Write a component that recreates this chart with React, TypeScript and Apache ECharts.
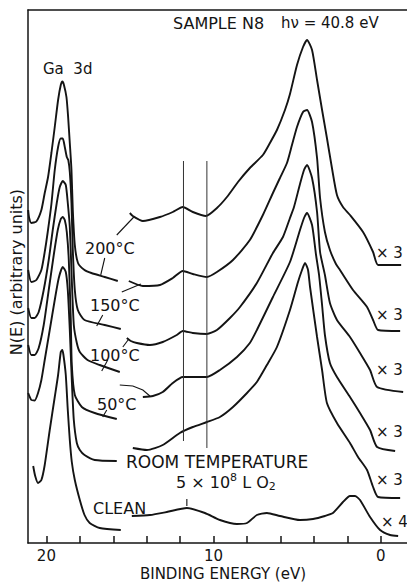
import React, { useEffect, useRef } from "react";
import * as echarts from "echarts";

// Binding energy (eV) vs N(E) (arbitrary units, offset spectra)
const LABELED_TICKS = [20, 10, 0];
const X_MIN = -1.57;
const X_MAX = 21.1;
const Y_MAX = 533;

// Ga 3d region (left part of each spectrum)
const GA_200: number[][] = [
  [21.09, 333], [21.03, 325], [20.9, 320], [20.6, 321.5], [20.3, 333], [20.1, 350], [19.9, 366],
  [19.7, 390], [19.5, 416], [19.3, 443], [19.14, 458], [19.04, 461.5], [18.95, 458], [18.8, 446],
  [18.7, 426], [18.6, 400], [18.5, 373], [18.42, 333], [18.3, 298], [18.11, 280], [17.72, 273],
  [17.31, 270], [16.51, 266], [15.73, 262],
];
const GA_150: number[][] = [
  [21.09, 273], [20.9, 261], [20.6, 263], [20.3, 273], [20.1, 291], [19.92, 311], [19.7, 339],
  [19.5, 373], [19.3, 396], [19.14, 404.5], [19.02, 404.5], [18.9, 396], [18.78, 386], [18.69, 383],
  [18.6, 371], [18.5, 340], [18.42, 293], [18.3, 253], [18.12, 233], [17.72, 223], [16.51, 218],
  [15.55, 214],
];
const GA_100: number[][] = [
  [21.09, 235], [20.9, 225], [20.7, 225], [20.46, 231], [20.16, 253], [19.86, 283], [19.62, 313],
  [19.38, 340], [19.2, 356], [19.02, 362], [18.84, 358], [18.72, 340], [18.6, 316], [18.48, 263],
  [18.36, 218], [18.18, 200], [18.0, 191], [17.54, 183], [16.81, 178], [15.61, 171],
];
const GA_50: number[][] = [
  [21.09, 198], [20.9, 188], [20.7, 188], [20.46, 195], [20.16, 218], [19.86, 253], [19.56, 288],
  [19.32, 313], [19.14, 324], [19.02, 326], [18.9, 323], [18.78, 311], [18.66, 283], [18.54, 223],
  [18.48, 178], [18.3, 148], [17.88, 136], [17.11, 130], [15.79, 124],
];
const GA_RT: number[][] = [
  [21.09, 150], [20.9, 143], [20.7, 142.5], [20.5, 150], [20.3, 163], [20.1, 183], [19.8, 213],
  [19.5, 243], [19.26, 265], [19.02, 276], [18.84, 271], [18.72, 253], [18.6, 213], [18.48, 163],
  [18.36, 123], [18.18, 100], [18.0, 93], [17.72, 88], [17.11, 83], [15.79, 82],
];
const GA_CLEAN: number[][] = [
  [20.79, 77], [20.67, 67], [20.5, 60], [20.3, 63], [20.1, 78], [19.8, 113], [19.5, 146],
  [19.3, 168], [19.14, 191], [19.05, 193], [18.98, 188], [18.84, 168], [18.72, 133], [18.6, 103],
  [18.48, 81], [18.3, 63], [18.0, 43], [17.72, 28], [17.41, 20], [16.81, 15], [15.55, 13],
];

// Valence band region (right part of each spectrum, x3 / x4)
const VB_200: number[][] = [
  [15.01, 330], [14.83, 327], [14.23, 322], [13.21, 326], [12.44, 331], [11.84, 336], [11.24, 331],
  [10.46, 327], [9.8, 335], [9.2, 346], [8.54, 361], [7.83, 375], [7.05, 388], [6.63, 400],
  [6.21, 413], [5.73, 433], [5.43, 449], [5.01, 478], [4.65, 496], [4.41, 503], [4.11, 493],
  [3.81, 463], [3.51, 433], [3.22, 405], [2.92, 375], [2.62, 348], [2.26, 336], [1.84, 328],
  [1.06, 311], [0.46, 291], [0.16, 278], [-1.22, 278],
];
const VB_150: number[][] = [
  [15.07, 262], [14.23, 257], [13.21, 258], [12.44, 265], [11.84, 272], [11.24, 269], [10.4, 266],
  [9.8, 271], [8.84, 283], [7.83, 303], [7.05, 328], [6.45, 350], [6.03, 365], [5.61, 380],
  [5.31, 398], [5.01, 416], [4.65, 431], [4.41, 433], [4.11, 421], [3.81, 385], [3.63, 345],
  [3.34, 311], [3.04, 293], [2.68, 279], [2.44, 273], [1.66, 253], [0.82, 236], [0.46, 223],
  [0.16, 213], [-1.16, 212],
];
const VB_100: number[][] = [
  [15.19, 205], [14.95, 202], [14.59, 200], [13.81, 198], [13.04, 201], [12.2, 208], [11.84, 212],
  [11.24, 210], [10.4, 209], [9.8, 213], [9.02, 225], [8.42, 236], [7.41, 260], [6.45, 290],
  [5.85, 306], [5.43, 325], [5.19, 336], [4.83, 359], [4.59, 373], [4.41, 378], [4.11, 365],
  [3.81, 331], [3.63, 291], [3.34, 268], [3.04, 240], [2.62, 223], [1.84, 206], [1.24, 190],
  [0.64, 173], [0.22, 156], [-1.34, 151],
];
const VB_50: number[][] = [
  [14.23, 146], [13.63, 147], [13.04, 151], [12.44, 160], [11.84, 166], [11.24, 166], [10.4, 166],
  [9.62, 173], [8.6, 186], [7.83, 200], [7.41, 213], [6.45, 246], [5.43, 281], [4.83, 313],
  [4.59, 325], [4.41, 330], [4.11, 318], [3.87, 288], [3.69, 268], [3.51, 238], [3.34, 208],
  [3.04, 180], [2.62, 166], [1.84, 146], [1.24, 130], [0.64, 113], [0.22, 96], [-0.86, 92],
];
const VB_RT: number[][] = [
  [14.83, 95], [13.99, 93], [13.04, 98], [12.02, 110], [11.24, 116], [10.4, 121], [9.62, 126],
  [8.84, 136], [8.0, 150], [7.41, 161], [6.81, 178], [6.21, 196], [5.43, 233], [4.95, 261],
  [4.71, 273], [4.53, 280], [4.35, 273], [4.23, 256], [3.81, 206], [3.51, 173], [3.22, 140],
  [2.62, 120], [1.84, 100], [1.36, 86], [0.82, 73], [0.46, 56], [0.16, 46], [-1.16, 45],
];
const VB_CLEAN: number[][] = [
  [14.89, 27], [13.81, 28], [12.8, 31], [11.6, 35], [10.52, 30], [9.62, 23], [8.6, 19], [8.0, 20],
  [7.41, 28], [6.81, 30], [6.03, 27], [4.83, 23], [4.05, 24], [3.34, 27], [2.86, 30], [2.26, 41],
  [1.84, 47], [1.54, 47], [1.24, 43], [0.64, 26], [0.04, 13], [-0.56, 8], [-1.04, 7],
];

// Vertical reference lines and the small tick on the clean spectrum
const REF_LINE_1: number[][] = [[11.8, 382], [11.8, 102]];
const REF_LINE_2: number[][] = [[10.4, 382], [10.4, 95]];
const CLEAN_TICK: number[][] = [[11.6, 44], [11.6, 37]];

// Leader lines from labels to curves (data coordinates)
const ARROWS: number[][][] = [
  [[15.79, 308], [14.77, 326]],
  [[15.49, 251], [14.35, 259]],
  [[15.43, 196], [15.07, 204]],
  [[15.61, 158], [14.83, 157], [14.23, 153], [13.81, 147]],
];
const LEADERS: number[][][] = [
  [[16.51, 285], [16.75, 268]],
  [[16.63, 228], [16.99, 217]],
  [[16.33, 183], [16.69, 172]],
  [[16.39, 133], [16.63, 126]],
];

const TEMPERATURES = ["200°C", "150°C", "100°C", "50°C"];
const SCALE_FACTORS = ["× 3", "× 3", "× 3", "× 3", "× 3", "× 4"];

const FONT = '"DejaVu Sans", sans-serif';
const INK = "#141414";

function curve(data: number[][]) {
  return {
    type: "line",
    data,
    smooth: 0.2,
    showSymbol: false,
    symbol: "none",
    silent: true,
    lineStyle: { color: INK, width: 1.9 },
  };
}

function thin(data: number[][], width = 1) {
  return {
    type: "line",
    data,
    showSymbol: false,
    symbol: "none",
    silent: true,
    lineStyle: { color: "#333", width },
  };
}

function txt(text: string, x: number, y: number, size: number, align = "left", extra: any = {}) {
  return {
    type: "text",
    x,
    y,
    silent: true,
    ...extra,
    style: {
      text,
      fill: INK,
      font: `${size}px ${FONT}`,
      align,
      textAlign: align,
      verticalAlign: "middle",
      textVerticalAlign: "middle",
      ...(extra.style || {}),
    },
  };
}

export default function App() {
  const ref = useRef<HTMLDivElement>(null);
  useEffect(() => {
    if (!ref.current) return;
    const chart = echarts.init(ref.current, null, { renderer: "svg" });
    const tempY = [248, 305, 355, 404];
    const tempX = [85, 90, 90, 97];
    const factorY = [253, 315, 370, 432, 480, 522];
    const factorX = [376, 376, 376, 376, 376, 381];
    chart.setOption({
      animation: false,
      backgroundColor: "#ffffff",
      grid: { left: 28, right: 0, top: 10, bottom: 41 },
      xAxis: [
        {
          type: "value",
          inverse: true,
          min: X_MIN,
          max: X_MAX,
          splitNumber: 11,
          minInterval: 2,
          maxInterval: 2,
          axisLine: { show: true, onZero: false, lineStyle: { color: INK, width: 1.5 } },
          axisTick: { show: true, inside: true, length: 7, lineStyle: { color: INK, width: 1.5 } },
          splitLine: { show: false },
          axisLabel: {
            show: true,
            margin: 5,
            color: INK,
            fontFamily: FONT,
            fontSize: 15,
            showMinLabel: false,
            showMaxLabel: false,
            formatter: (v: number) => {
              const t = LABELED_TICKS.find((k) => Math.abs(k - v) < 1e-6);
              return t === undefined ? "" : String(t);
            },
          },
        },
        {
          type: "value",
          position: "top",
          inverse: true,
          min: X_MIN,
          max: X_MAX,
          axisLine: { show: true, onZero: false, lineStyle: { color: INK, width: 1.5 } },
          axisTick: { show: false },
          axisLabel: { show: false },
          splitLine: { show: false },
        },
      ],
      yAxis: {
        type: "value",
        min: 0,
        max: Y_MAX,
        axisLine: { show: true, onZero: false, lineStyle: { color: INK, width: 1.5 } },
        axisTick: { show: false },
        axisLabel: { show: false },
        splitLine: { show: false },
      },
      series: [
        curve(GA_200), curve(GA_150), curve(GA_100), curve(GA_50), curve(GA_RT), curve(GA_CLEAN),
        curve(VB_200), curve(VB_150), curve(VB_100), curve(VB_50), curve(VB_RT), curve(VB_CLEAN),
        thin(REF_LINE_1), thin(REF_LINE_2), thin(CLEAN_TICK, 1.3),
        {
          type: "lines",
          coordinateSystem: "cartesian2d",
          polyline: true,
          silent: true,
          symbol: ["none", "arrow"],
          symbolSize: 6,
          lineStyle: { color: INK, width: 1.1, opacity: 1 },
          data: ARROWS.map((c) => ({ coords: c })),
        },
        {
          type: "lines",
          coordinateSystem: "cartesian2d",
          polyline: true,
          silent: true,
          symbol: ["none", "none"],
          lineStyle: { color: INK, width: 1.1, opacity: 1 },
          data: LEADERS.map((c) => ({ coords: c })),
        },
      ],
      graphic: [
        txt("SAMPLE N8", 173, 23, 16),
        txt("hν = 40.8 eV", 281, 23, 15),
        txt("Ga  3d", 43, 69, 15),
        ...TEMPERATURES.map((t, i) => txt(t, tempX[i], tempY[i], 16)),
        ...SCALE_FACTORS.map((t, i) => txt(t, factorX[i], factorY[i], 15)),
        txt("ROOM TEMPERATURE", 126, 462, 17),
        {
          type: "text",
          x: 176,
          y: 482,
          silent: true,
          style: {
            text: "5 × 10{sup|8} L O{sub|2}",
            fill: INK,
            font: `16px ${FONT}`,
            align: "left",
            textAlign: "left",
            verticalAlign: "middle",
            textVerticalAlign: "middle",
            rich: {
              sup: { fontSize: 11, fontFamily: FONT, fill: INK, color: INK, verticalAlign: "top", lineHeight: 20 },
              sub: { fontSize: 11, fontFamily: FONT, fill: INK, color: INK, verticalAlign: "bottom", lineHeight: 20 },
            },
          },
        },
        txt("CLEAN", 93, 508, 16),
        txt("N(E) (arbitrary units)", 16, 272, 16, "center", { rotation: Math.PI / 2 }),
        txt("BINDING ENERGY (eV)", 223, 574, 15, "center"),
      ],
    });
    return () => chart.dispose();
  }, []);
  return (
    <div
      ref={ref}
      style={{ position: "absolute", left: 0, top: 0, width: 407, height: 584, background: "#fff" }}
    />
  );
}
